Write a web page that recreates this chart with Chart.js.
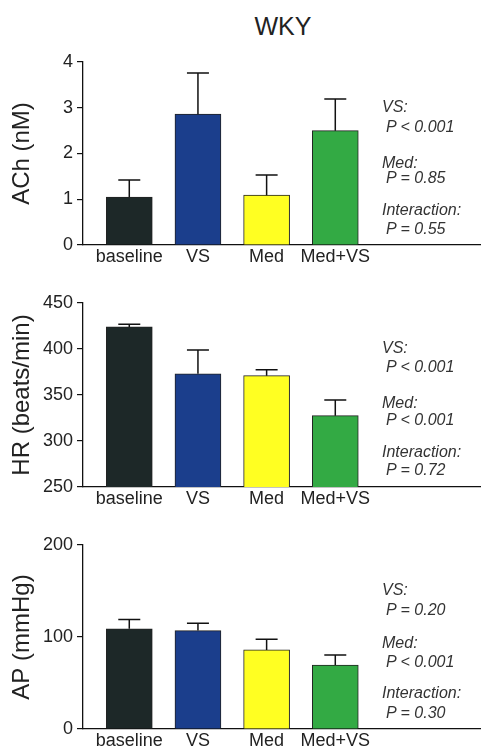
<!DOCTYPE html>
<html>
<head>
<meta charset="utf-8">
<script src="https://cdn.jsdelivr.net/npm/chart.js@4/dist/chart.umd.min.js"></script>
<style>
  html, body { margin: 0; padding: 0; background: #fff; overflow: hidden; }
  #wrap { position: relative; width: 481px; height: 749px; font-family: "Liberation Sans", Arial, sans-serif; color: #222; }
  canvas { position: absolute; left: 0; }
  .title { position: absolute; left: 233px; width: 100px; top: 12px; text-align: center; font-size: 25px; }
  .note { position: absolute; font-size: 16px; font-style: italic; line-height: 16px; color: #333; white-space: nowrap; }
</style>
</head>
<body>
<div id="wrap">
  <div class="title">WKY</div>
  <canvas id="achChart" width="481" height="235" style="top:30px"></canvas>
  <canvas id="hrChart" width="481" height="232" style="top:275px"></canvas>
  <canvas id="apChart" width="481" height="232" style="top:517px"></canvas>
  <div id="notes"></div>
</div>
<script>
// categories shared by all three panels
const categories = ["baseline", "VS", "Med", "Med+VS"];

// ACh (nM)
const achMean = [1.05, 2.86, 1.09, 2.50];
const achErr = [0.37, 0.90, 0.44, 0.69];
const achTicks = [0, 1, 2, 3, 4];

// HR (beats/min)
const hrMean = [424, 373, 371, 327.5];
const hrErr = [3, 26, 6.5, 17];
const hrTicks = [250, 300, 350, 400, 450];

// AP (mmHg)
const apMean = [109, 107, 86, 69.5];
const apErr = [10, 8, 11.5, 11];
const apTicks = [0, 100, 200];

// statistics text beside each panel
const achStats = ["VS:", "P < 0.001", "Med:", "P = 0.85", "Interaction:", "P = 0.55"];
const hrStats = ["VS:", "P < 0.001", "Med:", "P < 0.001", "Interaction:", "P = 0.72"];
const apStats = ["VS:", "P = 0.20", "Med:", "P < 0.001", "Interaction:", "P = 0.30"];

const barColors = ["#1d2828", "#1b3e8c", "#ffff22", "#33aa44"];

// upward error bars (mean + SEM)
const errorBars = {
  id: "errorBars",
  afterDatasetsDraw(chart, args, opts) {
    const ctx = chart.ctx;
    const yScale = chart.scales.y;
    const meta = chart.getDatasetMeta(0);
    const values = chart.data.datasets[0].data;
    ctx.save();
    ctx.strokeStyle = "#111";
    ctx.lineWidth = 1.5;
    meta.data.forEach((bar, i) => {
      const top = yScale.getPixelForValue(values[i].y + opts.errors[i]);
      ctx.beginPath();
      ctx.moveTo(bar.x, bar.y);
      ctx.lineTo(bar.x, top);
      ctx.moveTo(bar.x - 11, top);
      ctx.lineTo(bar.x + 11, top);
      ctx.stroke();
    });
    ctx.restore();
  }
};

function makePanel(id, label, means, errs, ticks, padTop) {
  new Chart(document.getElementById(id), {
    type: "bar",
    data: {
      datasets: [{
        data: means.map((v, i) => ({ x: i, y: v })),
        backgroundColor: barColors,
        borderColor: "#222",
        borderWidth: 1,
        barThickness: 46
      }]
    },
    options: {
      responsive: false,
      animation: false,
      layout: { padding: { top: padTop, left: 0, right: 0, bottom: 0 } },
      plugins: {
        legend: { display: false },
        tooltip: { enabled: false },
        errorBars: { errors: errs }
      },
      scales: {
        x: {
          type: "linear",
          offset: false,
          min: -0.674,
          max: 5.122,
          afterFit(scale) { scale.height = 20; },
          grid: { display: false, drawTicks: false },
          border: { display: true, color: "#111", width: 1.3 },
          ticks: {
            stepSize: 1,
            includeBounds: false,
            autoSkip: false,
            maxRotation: 0,
            padding: 1,
            color: "#222",
            font: { family: "'Liberation Sans', Arial, sans-serif", size: 18 },
            callback: (v) => (Number.isInteger(v) && categories[v] !== undefined) ? categories[v] : ""
          }
        },
        y: {
          min: ticks[0],
          max: ticks[ticks.length - 1],
          afterFit(scale) { scale.width = 83; },
          grid: { drawOnChartArea: false, color: "#111", tickLength: 6, lineWidth: 1.2 },
          border: { display: true, color: "#111", width: 1.3 },
          ticks: {
            stepSize: ticks[1] - ticks[0],
            padding: 4,
            color: "#222",
            font: { family: "'Liberation Sans', Arial, sans-serif", size: 18 }
          },
          title: {
            display: true,
            text: label,
            color: "#222",
            padding: { top: 8, bottom: 0 },
            font: { family: "'Liberation Sans', Arial, sans-serif", size: 24 }
          }
        }
      }
    },
    plugins: [errorBars]
  });
}

makePanel("achChart", "ACh (nM)", achMean, achErr, achTicks, 32);
makePanel("hrChart", "HR (beats/min)", hrMean, hrErr, hrTicks, 28);
makePanel("apChart", "AP (mmHg)", apMean, apErr, apTicks, 28);

// stats notes
const notes = document.getElementById("notes");
function addNotes(lines, centers) {
  lines.forEach((t, i) => {
    const d = document.createElement("div");
    d.className = "note";
    d.textContent = t;
    d.style.left = (i % 2 === 0 ? 382 : 386) + "px";
    d.style.top = (centers[i] - 8) + "px";
    notes.appendChild(d);
  });
}
addNotes(achStats, [107, 127, 163, 178, 210, 229]);
addNotes(hrStats, [348, 367, 403, 420, 452, 470]);
addNotes(apStats, [590, 610, 643, 662, 693, 713]);
</script>
</body>
</html>
